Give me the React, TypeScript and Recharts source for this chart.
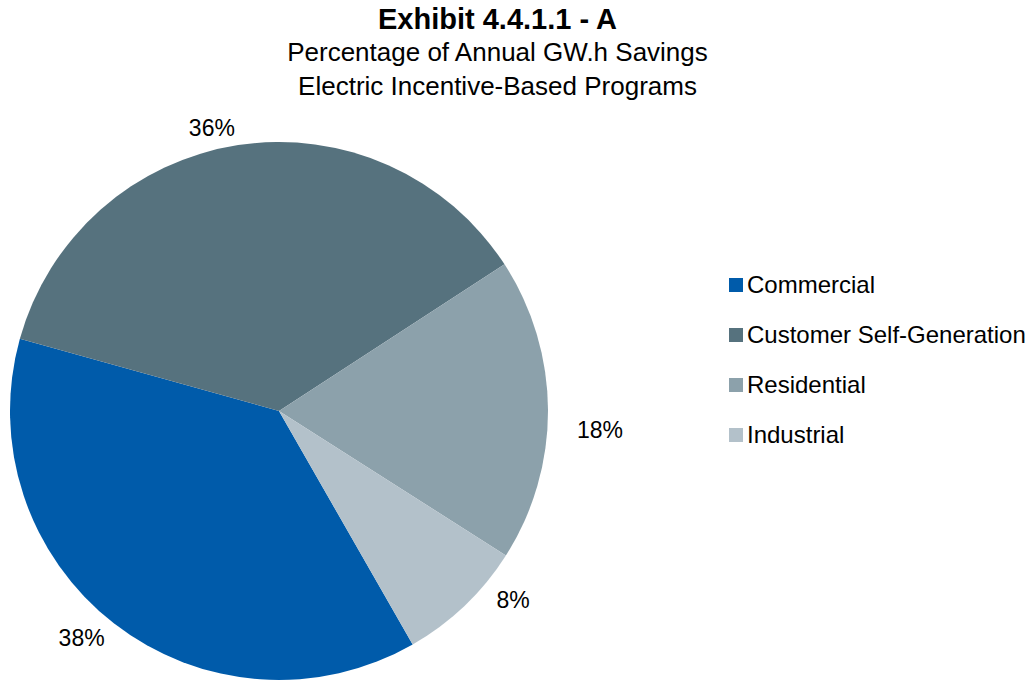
import React from 'react';
import { PieChart, Pie, Cell, Legend } from 'recharts';

const categories = ['Commercial', 'Customer Self-Generation', 'Residential', 'Industrial'];
const shares = [37.6, 36.5, 18.2, 7.7];
const labels = ['38%', '36%', '18%', '8%'];
const colors = ['#005BAA', '#56727E', '#8CA1AB', '#B3C1CA'];
const labelNudges = [
  [-15, -7],
  [-22, 11],
  [24, 20],
  [29, -26],
];

const data = categories.map((name, i) => ({ name, value: shares[i], label: labels[i] }));

const FONT = '"Liberation Sans", Arial, sans-serif';
const RAD = Math.PI / 180;

const renderLabel = (props: any) => {
  const { cx, cy, outerRadius, midAngle, index } = props;
  const r = outerRadius + 28;
  const x = cx + r * Math.cos(-midAngle * RAD) + labelNudges[index][0];
  const y = cy + r * Math.sin(-midAngle * RAD) + labelNudges[index][1];
  return (
    <text
      x={x}
      y={y}
      textAnchor="middle"
      dominantBaseline="central"
      fill="#000"
      style={{ fontFamily: FONT, fontSize: 23 }}
    >
      {data[index].label}
    </text>
  );
};

const renderLegend = () => (
  <div style={{ fontFamily: FONT, fontSize: 24, color: '#000' }}>
    {categories.map((c, i) => (
      <div key={c} style={{ display: 'flex', alignItems: 'center', height: 50 }}>
        <span
          style={{
            display: 'inline-block',
            width: 14,
            height: 14,
            background: colors[i],
            marginRight: 4,
          }}
        />
        <span style={{ whiteSpace: 'nowrap' }}>{c}</span>
      </div>
    ))}
  </div>
);

export default function App() {
  return (
    <div style={{ position: 'absolute', left: 0, top: 0, width: 1032, height: 681, background: '#fff' }}>
      <div
        style={{
          position: 'absolute',
          left: 0,
          top: 3,
          width: 995,
          textAlign: 'center',
          fontFamily: FONT,
          color: '#000',
          zIndex: 2,
        }}
      >
        <div style={{ fontSize: 29, fontWeight: 'bold', lineHeight: '33px' }}>Exhibit 4.4.1.1 - A</div>
        <div style={{ fontSize: 26, lineHeight: '33px' }}>Percentage of Annual GW.h Savings</div>
        <div style={{ fontSize: 26, lineHeight: '34px' }}>Electric Incentive-Based Programs</div>
      </div>
      <PieChart width={1032} height={681} margin={{ top: 0, right: 0, bottom: 0, left: 0 }}>
        <Pie
          data={data}
          dataKey="value"
          nameKey="name"
          cx={279}
          cy={411}
          outerRadius={269}
          startAngle={-60.2}
          endAngle={-420.2}
          stroke="none"
          label={renderLabel}
          labelLine={false}
          isAnimationActive={false}
        >
          {data.map((d, i) => (
            <Cell key={d.name} fill={colors[i]} />
          ))}
        </Pie>
        <Legend
          content={renderLegend}
          wrapperStyle={{ position: 'absolute', left: 729, top: 260, width: 303 }}
        />
      </PieChart>
    </div>
  );
}
